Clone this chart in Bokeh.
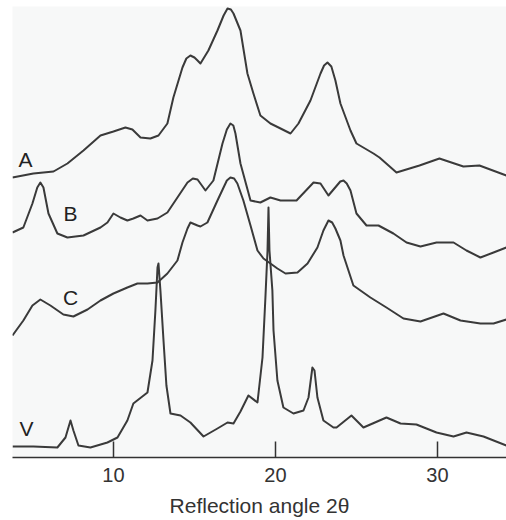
from bokeh.plotting import figure
from bokeh.models import Range1d, FixedTicker, ColumnDataSource
from bokeh.core.properties import value
from bokeh.embed import file_html
from bokeh.resources import INLINE

# 2-theta positions and relative intensities (stacked curves)
a_x = [3.77, 5.06, 6.30, 7.16, 8.15, 9.20, 10.0, 10.74, 11.17, 11.67, 12.28, 12.78, 13.33, 13.70,
       14.26, 14.50, 14.75, 15.00, 15.19, 15.37, 15.86, 16.42, 16.80, 17.04, 17.25, 17.41, 17.84,
       18.27, 18.64, 19.07, 19.69, 20.19, 20.93, 21.42, 22.16, 22.78, 23.00, 23.21, 23.45, 23.70,
       24.01, 24.63, 25.0, 26.05, 26.42, 27.47, 28.89, 30.12, 31.60, 32.59, 34.26]
a_y = [280, 284, 286, 294, 307, 322, 326, 330, 328, 320, 319, 322, 334, 360,
       390, 399, 402, 400, 397, 394, 407, 427, 442, 449, 448, 444, 427,
       384, 364, 342, 334, 330, 324, 334, 357, 384, 392, 395, 391, 377,
       354, 327, 314, 304, 300, 285, 292, 299, 291, 292, 282]

b_x = [3.77, 4.44, 5.0, 5.30, 5.49, 5.68, 5.99, 6.54, 7.16, 8.15, 9.20, 9.63, 10.0, 10.43, 10.86,
       11.23, 11.67, 12.10, 12.72, 13.33, 13.95, 14.57, 14.90, 15.19, 15.68, 16.17, 16.73, 17.00,
       17.22, 17.40, 17.53, 17.84, 18.46, 19.07, 19.69, 20.31, 21.30, 22.35, 22.78, 23.27, 24.00,
       24.20, 24.40, 24.63, 25.0, 25.62, 26.36, 27.28, 28.09, 28.95, 29.94, 30.99, 31.79, 32.65,
       33.46, 34.26]
b_y = [225, 230, 254, 270, 275, 270, 244, 224, 220, 222, 230, 235, 244, 240, 237,
       239, 242, 237, 239, 245, 260, 275, 279, 278, 267, 277, 314, 328,
       334, 332, 324, 294, 257, 255, 260, 257, 257, 275, 274, 262, 276,
       277, 274, 267, 244, 232, 232, 224, 215, 211, 215, 215, 207, 200,
       205, 210]

c_x = [3.77, 4.44, 5.0, 5.49, 6.11, 6.91, 7.53, 8.40, 9.20, 10.0, 10.86, 11.48, 12.10, 12.72,
       13.33, 13.95, 14.26, 14.57, 14.75, 15.19, 15.37, 15.80, 16.42, 17.00, 17.22, 17.45, 17.65,
       18.02, 18.46, 18.89, 19.26, 19.69, 20.12, 20.62, 21.36, 21.98, 22.59, 22.96, 23.27, 23.50,
       23.70, 24.01, 24.20, 24.81, 25.86, 26.85, 27.90, 28.95, 30.37, 31.42, 32.65, 33.46, 34.26]
c_y = [122, 137, 152, 158, 152, 143, 141, 148, 157, 164, 170, 174, 174, 175,
       184, 197, 215, 229, 235, 232, 231, 235, 257, 277, 280, 279, 274,
       257, 232, 207, 199, 194, 189, 184, 185, 194, 210, 227, 237, 235,
       229, 217, 202, 172, 160, 150, 139, 136, 144, 137, 134, 134, 138]

v_x = [3.77, 5.06, 6.54, 7.04, 7.35, 7.53, 7.84, 8.58, 9.63, 10.25, 10.86, 11.23, 12.10, 12.41,
       12.59, 12.72, 12.78, 12.90, 13.09, 13.27, 13.52, 14.14, 14.75, 15.56, 16.42, 17.04, 17.41,
       17.84, 18.33, 18.89, 19.20, 19.38, 19.51, 19.57, 19.63, 19.81, 19.88, 20.12, 20.49, 21.11,
       21.73, 22.04, 22.28, 22.41, 22.59, 22.96, 23.58, 23.77, 24.69, 25.43, 26.85, 27.72, 28.70,
       29.94, 30.99, 31.79, 32.84, 34.26]
v_y = [11, 11, 10, 20, 37, 27, 12, 10, 15, 20, 37, 54, 65, 97,
       147, 190, 194, 167, 117, 72, 44, 42, 35, 21, 29, 35, 34,
       46, 62, 55, 100, 160, 207, 250, 207, 167, 127, 77, 50, 44,
       47, 60, 90, 87, 60, 37, 30, 30, 42, 30, 40, 34, 33,
       25, 21, 25, 21, 12]

label_text = ["A", "B", "C", "V"]
label_x = [4.57, 7.35, 7.35, 4.63]
label_y = [298, 244, 160, 29]

x_ticks = [10, 20, 30]

p = figure(width=506, height=520, output_backend="svg", toolbar_location=None,
           x_range=Range1d(3.77, 34.26), y_range=Range1d(0, 451),
           y_axis_location=None, min_border_left=12, min_border_right=0,
           min_border_top=6, min_border_bottom=63)
p.background_fill_color = "#f7f8f8"
p.border_fill_color = "white"
p.outline_line_color = None
p.grid.visible = False

line_color = "#3a3a3a"
for xs, ys in [(a_x, a_y), (b_x, b_y), (c_x, c_y), (v_x, v_y)]:
    p.line(xs, ys, line_color=line_color, line_width=2, line_join="round")

src = ColumnDataSource(dict(x=label_x, y=label_y, t=label_text))
p.text(x="x", y="y", text="t", source=src, text_font=value("Liberation Sans"),
       text_font_size="21px", text_color="#222222", text_align="center",
       text_baseline="middle")

ax = p.xaxis[0]
ax.ticker = FixedTicker(ticks=x_ticks)
ax.minor_tick_line_color = None
ax.major_tick_in = 16
ax.major_tick_out = 0
ax.major_tick_line_color = "#333333"
ax.major_tick_line_width = 1.5
ax.axis_line_color = "#333333"
ax.axis_line_width = 1.5
ax.major_label_text_font = "Liberation Sans"
ax.major_label_text_font_size = "20px"
ax.major_label_text_color = "#333333"
ax.major_label_standoff = 10
ax.axis_label = "Reflection angle 2θ"
ax.axis_label_text_font = "Liberation Sans"
ax.axis_label_text_font_size = "21px"
ax.axis_label_text_font_style = "normal"
ax.axis_label_text_color = "#333333"
ax.axis_label_standoff = 9

open("out.html", "w").write(file_html(p, INLINE))
